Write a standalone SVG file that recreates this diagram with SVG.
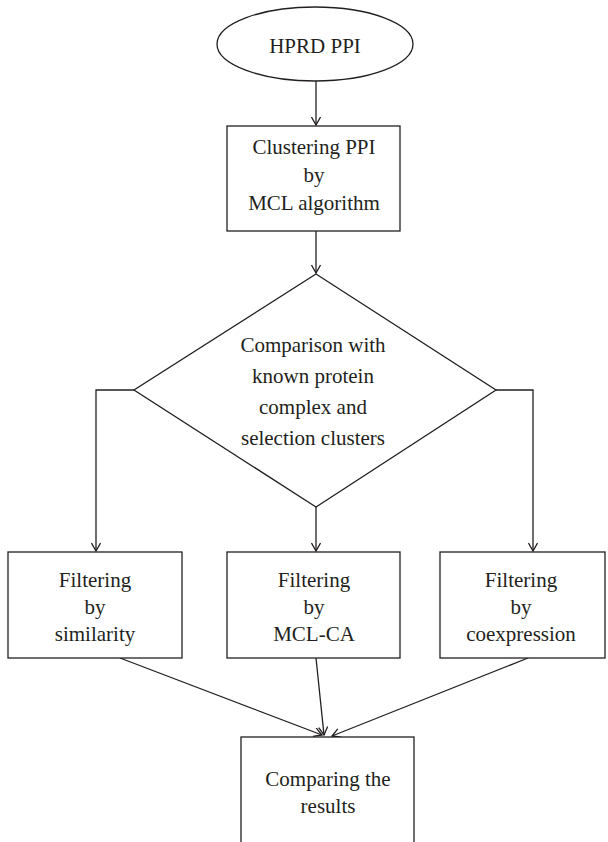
<svg xmlns="http://www.w3.org/2000/svg" width="608" height="842" viewBox="0 0 608 842">
<style>
.s{fill:#fff;stroke:#231f20;stroke-width:1.3}
.c{fill:none;stroke:#231f20;stroke-width:1.3}
.t{font-size:21px;fill:#231f20;text-anchor:middle}
</style>
<defs>
<marker id="a" viewBox="0 0 10 10" refX="9" refY="5" markerWidth="10" markerHeight="10" markerUnits="userSpaceOnUse" orient="auto">
<path d="M1,0.5 L9,5 L1,9.5" fill="none" stroke="#231f20" stroke-width="1.3"/>
</marker>
</defs>
<rect width="608" height="842" fill="#fff"/>
<g id="connectors">
<path class="c" d="M316,81 V125" marker-end="url(#a)"/>
<path class="c" d="M316,231 V273" marker-end="url(#a)"/>
<path class="c" d="M134,390 H96 V551" marker-end="url(#a)"/>
<path class="c" d="M316,507 V551" marker-end="url(#a)"/>
<path class="c" d="M496,390 H533 V551" marker-end="url(#a)"/>
<path class="c" d="M120,658 L322,735" marker-end="url(#a)"/>
<path class="c" d="M316,658 L324,735" marker-end="url(#a)"/>
<path class="c" d="M528,658 L332,736" marker-end="url(#a)"/>
</g>
<g class="t" font-family="'Liberation Serif', 'Times New Roman', 'DejaVu Serif', serif">
<g id="hprd">
<ellipse class="s" cx="315" cy="44" rx="98" ry="37"/>
<text x="315" y="53">HPRD PPI</text>
</g>
<g id="clustering">
<rect class="s" x="227" y="126" width="173" height="105"/>
<text x="314" y="154">Clustering PPI</text>
<text x="314" y="182">by</text>
<text x="314" y="210">MCL algorithm</text>
</g>
<g id="comparison">
<polygon class="s" points="316,274 496,390 316,507 134,390"/>
<text x="313" y="352">Comparison with</text>
<text x="313" y="383">known protein</text>
<text x="313" y="414">complex and</text>
<text x="313" y="445">selection clusters</text>
</g>
<g id="similarity">
<rect class="s" x="8" y="552" width="174" height="106"/>
<text x="95" y="587">Filtering</text>
<text x="95" y="614">by</text>
<text x="95" y="641">similarity</text>
</g>
<g id="mclca">
<rect class="s" x="227" y="552" width="173" height="106"/>
<text x="314" y="587">Filtering</text>
<text x="314" y="614">by</text>
<text x="314" y="641">MCL-CA</text>
</g>
<g id="coexpression">
<rect class="s" x="440" y="552" width="165" height="106"/>
<text x="521" y="587">Filtering</text>
<text x="521" y="614">by</text>
<text x="521" y="641">coexpression</text>
</g>
<g id="results">
<rect class="s" x="241" y="737" width="173" height="130"/>
<text x="328" y="786">Comparing the</text>
<text x="328" y="813">results</text>
</g>
</g>
</svg>
